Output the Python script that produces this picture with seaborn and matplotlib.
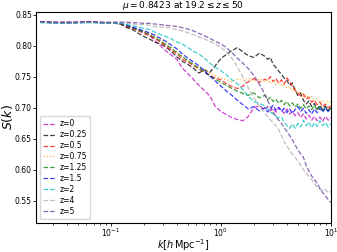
import numpy as np
import seaborn as sns
import matplotlib
matplotlib.use('Agg')
import matplotlib.pyplot as plt

# log10 of k [h/Mpc] at which the curves are sampled
logk = [-1.64, -1.50, -1.35, -1.20, -1.05, -0.95, -0.90, -0.85, -0.80, -0.75,
        -0.70, -0.65, -0.60, -0.55, -0.50, -0.45, -0.40, -0.35, -0.30, -0.25,
        -0.20, -0.15, -0.10, -0.05, 0.00, 0.05, 0.10, 0.15, 0.20, 0.25,
        0.30, 0.35, 0.40, 0.425, 0.45, 0.475, 0.50, 0.525, 0.55, 0.575,
        0.60, 0.625, 0.65, 0.675, 0.70, 0.725, 0.75, 0.775, 0.80, 0.825,
        0.85, 0.875, 0.90, 0.925, 0.95, 0.975, 1.00]

s_z0 = [0.839, 0.838, 0.838, 0.838, 0.837, 0.836, 0.834, 0.830, 0.828, 0.825,
        0.822, 0.818, 0.808, 0.800, 0.792, 0.785, 0.778, 0.764, 0.755, 0.746,
        0.736, 0.728, 0.719, 0.702, 0.694, 0.689, 0.684, 0.681, 0.679, 0.686,
        0.700, 0.703, 0.697, 0.702, 0.695, 0.699, 0.693, 0.700, 0.696, 0.691,
        0.698, 0.690, 0.694, 0.687, 0.692, 0.684, 0.690, 0.682, 0.688, 0.680,
        0.686, 0.679, 0.685, 0.678, 0.686, 0.680, 0.684]
s_z025 = [0.838, 0.837, 0.837, 0.838, 0.837, 0.836, 0.834, 0.829, 0.826, 0.820,
          0.815, 0.811, 0.806, 0.803, 0.798, 0.791, 0.782, 0.775, 0.770, 0.764,
          0.756, 0.761, 0.757, 0.768, 0.779, 0.786, 0.792, 0.797, 0.790, 0.784,
          0.781, 0.788, 0.783, 0.778, 0.781, 0.770, 0.765, 0.759, 0.754, 0.748,
          0.744, 0.736, 0.740, 0.728, 0.720, 0.724, 0.712, 0.706, 0.711, 0.702,
          0.707, 0.698, 0.704, 0.697, 0.703, 0.696, 0.700]
s_z05 = [0.838, 0.837, 0.837, 0.838, 0.837, 0.836, 0.835, 0.831, 0.828, 0.824,
         0.820, 0.816, 0.812, 0.806, 0.800, 0.793, 0.787, 0.778, 0.774, 0.768,
         0.763, 0.757, 0.752, 0.748, 0.745, 0.739, 0.734, 0.731, 0.735, 0.742,
         0.747, 0.741, 0.746, 0.744, 0.750, 0.742, 0.747, 0.740, 0.745, 0.738,
         0.748, 0.742, 0.735, 0.728, 0.724, 0.719, 0.722, 0.714, 0.717, 0.709,
         0.712, 0.705, 0.709, 0.702, 0.706, 0.700, 0.703]
s_z075 = [0.838, 0.837, 0.837, 0.838, 0.837, 0.836, 0.835, 0.832, 0.829, 0.826,
          0.823, 0.819, 0.815, 0.810, 0.804, 0.797, 0.790, 0.783, 0.776, 0.770,
          0.765, 0.760, 0.756, 0.752, 0.748, 0.745, 0.742, 0.746, 0.744, 0.748,
          0.743, 0.747, 0.742, 0.745, 0.739, 0.743, 0.737, 0.741, 0.735, 0.738,
          0.731, 0.734, 0.727, 0.730, 0.723, 0.726, 0.718, 0.722, 0.714, 0.718,
          0.710, 0.715, 0.708, 0.712, 0.706, 0.711, 0.708]
s_z125 = [0.838, 0.837, 0.837, 0.838, 0.837, 0.836, 0.835, 0.832, 0.829, 0.825,
          0.822, 0.818, 0.813, 0.808, 0.802, 0.796, 0.789, 0.782, 0.776, 0.770,
          0.764, 0.758, 0.752, 0.746, 0.741, 0.736, 0.731, 0.727, 0.723, 0.720,
          0.724, 0.716, 0.720, 0.713, 0.717, 0.710, 0.714, 0.707, 0.712, 0.705,
          0.710, 0.703, 0.708, 0.701, 0.706, 0.699, 0.705, 0.698, 0.703, 0.697,
          0.704, 0.696, 0.702, 0.695, 0.701, 0.694, 0.699]
s_z15 = [0.838, 0.837, 0.837, 0.838, 0.837, 0.836, 0.836, 0.833, 0.830, 0.827,
         0.824, 0.821, 0.817, 0.812, 0.807, 0.801, 0.795, 0.787, 0.780, 0.774,
         0.768, 0.760, 0.751, 0.743, 0.735, 0.727, 0.720, 0.712, 0.705, 0.698,
         0.702, 0.695, 0.700, 0.693, 0.698, 0.704, 0.696, 0.701, 0.694, 0.699,
         0.692, 0.698, 0.691, 0.697, 0.702, 0.694, 0.699, 0.691, 0.697, 0.690,
         0.698, 0.692, 0.699, 0.693, 0.700, 0.694, 0.698]
s_z2 = [0.837, 0.836, 0.836, 0.837, 0.836, 0.836, 0.836, 0.834, 0.832, 0.830,
        0.828, 0.826, 0.822, 0.818, 0.815, 0.811, 0.806, 0.803, 0.797, 0.791,
        0.787, 0.780, 0.772, 0.765, 0.760, 0.753, 0.745, 0.739, 0.729, 0.718,
        0.710, 0.707, 0.703, 0.698, 0.693, 0.690, 0.686, 0.684, 0.685, 0.677,
        0.671, 0.667, 0.674, 0.667, 0.675, 0.669, 0.680, 0.671, 0.677, 0.668,
        0.676, 0.670, 0.679, 0.671, 0.676, 0.669, 0.674]
s_z4 = [0.838, 0.837, 0.837, 0.838, 0.837, 0.837, 0.837, 0.836, 0.835, 0.834,
        0.834, 0.833, 0.831, 0.830, 0.830, 0.828, 0.826, 0.824, 0.821, 0.818,
        0.814, 0.811, 0.807, 0.803, 0.797, 0.790, 0.780, 0.766, 0.750, 0.732,
        0.716, 0.703, 0.691, 0.686, 0.681, 0.676, 0.671, 0.665, 0.655, 0.645,
        0.638, 0.632, 0.625, 0.620, 0.614, 0.607, 0.600, 0.595, 0.589, 0.584,
        0.578, 0.572, 0.569, 0.566, 0.568, 0.563, 0.565]
s_z5 = [0.839, 0.838, 0.838, 0.839, 0.838, 0.838, 0.838, 0.838, 0.837, 0.837,
        0.836, 0.836, 0.835, 0.834, 0.833, 0.832, 0.831, 0.829, 0.827, 0.824,
        0.820, 0.816, 0.812, 0.807, 0.803, 0.797, 0.789, 0.780, 0.772, 0.763,
        0.752, 0.738, 0.722, 0.712, 0.702, 0.693, 0.686, 0.680, 0.675, 0.668,
        0.662, 0.655, 0.648, 0.640, 0.632, 0.626, 0.620, 0.607, 0.598, 0.590,
        0.584, 0.578, 0.570, 0.563, 0.558, 0.552, 0.547]

labels = ['z=0', 'z=0.25', 'z=0.5', 'z=0.75', 'z=1.25', 'z=1.5', 'z=2', 'z=4', 'z=5']
series = [s_z0, s_z025, s_z05, s_z075, s_z125, s_z15, s_z2, s_z4, s_z5]
colors = ['m', 'k', 'r', 'orange', 'g', 'b', 'c', 'darkgray', 'rebeccapurple']
styles = ['--', '--', '--', ':', '--', '--', '--', '--', '--']

k = 10 ** np.array(logk)

fig = plt.figure(figsize=(3.37, 2.52), dpi=100)
ax = fig.add_axes([0.107, 0.117, 0.875, 0.837])

for s, lab, c, ls in zip(series, labels, colors, styles):
    sns.lineplot(x=k, y=s, ax=ax, color=c, linestyle=ls, linewidth=0.9,
                 alpha=0.75, label=lab)

ax.set_xscale('log')
ax.set_xlim(0.021, 10)
ax.set_ylim(0.515, 0.855)
ax.set_yticks([0.55, 0.60, 0.65, 0.70, 0.75, 0.80, 0.85])
ax.tick_params(labelsize=5.5, length=2, width=0.6, pad=1)
ax.tick_params(which='minor', length=1.2, width=0.5)
for sp in ax.spines.values():
    sp.set_linewidth(0.8)

ax.set_title(r'$\mu=0.8423$ at $19.2\leq z\leq 50$', fontsize=6.5, pad=1.5)
ax.set_xlabel(r'$k[h\,\mathrm{Mpc}^{-1}]$', fontsize=7, labelpad=-1)
ax.set_ylabel(r'$S(k)$', fontsize=9, labelpad=0)

ax.legend(loc='lower left', fontsize=5.5, handlelength=1.6, labelspacing=0.25,
          borderpad=0.4, handletextpad=0.6, framealpha=0.8)

fig.savefig('out.png', dpi=100)
